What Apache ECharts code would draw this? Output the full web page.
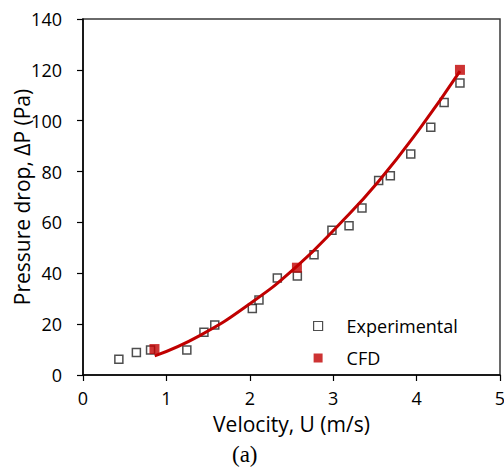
<!DOCTYPE html>
<html>
<head>
<meta charset="utf-8">
<script src="https://cdn.jsdelivr.net/npm/echarts@6/dist/echarts.min.js"></script>
<style>
html,body{margin:0;padding:0;background:#fff;}
#chart{width:504px;height:474px;}
</style>
</head>
<body>
<div id="chart"></div>
<script>
// Experimental data
var expU  = [0.43, 0.64, 0.81, 1.245, 1.45, 1.58, 2.03, 2.11, 2.33, 2.57, 2.77, 2.985, 3.19, 3.345, 3.545, 3.685, 3.93, 4.17, 4.33, 4.52];
var expDP = [6.2, 8.8, 9.8, 9.8, 16.8, 19.7, 26.2, 29.5, 38.1, 38.9, 47.3, 56.9, 58.7, 65.7, 76.5, 78.4, 86.9, 97.4, 107.2, 114.8];
// CFD data
var cfdU  = [0.857, 2.565, 4.52];
var cfdDP = [10.2, 42.2, 120.0];
// Trend curve
var fitU  = [0.86, 1.4, 2.0, 2.56, 3.08, 3.54, 4.04, 4.52];
var fitDP = [7.5, 15.5, 28.0, 42.6, 59.5, 76.0, 97.0, 119.5];
// Axis ticks
var xTicks = [0, 1, 2, 3, 4, 5];
var yTicks = [0, 20, 40, 60, 80, 100, 120, 140];

function pairs(a, b) { return a.map(function (v, i) { return [v, b[i]]; }); }

var font = '"Open Sans", sans-serif';
var chart = echarts.init(document.getElementById('chart'), null, { renderer: 'svg' });
chart.setOption({
  animation: false,
  backgroundColor: '#fff',
  title: {
    text: '(a)', left: 232, top: 443, padding: 0,
    textStyle: { fontFamily: '"Liberation Serif", serif', fontSize: 23, fontWeight: 'normal', color: '#000' }
  },
  grid: { left: 83, right: 4, top: 19, bottom: 99, outerBoundsMode: 'none', containLabel: false,
          show: true, borderColor: '#3a3a3a', borderWidth: 1.5, backgroundColor: 'transparent' },
  legend: {
    orient: 'vertical', left: 308, top: 311, itemWidth: 9, itemHeight: 9, itemGap: 12,
    data: [
      { name: 'Experimental', itemStyle: { color: '#fff', borderColor: '#222', borderWidth: 1.2 } },
      { name: 'CFD' }
    ],
    textStyle: { fontFamily: font, fontSize: 18, color: '#000', padding: [0, 0, 0, 19], lineHeight: 20 }
  },
  xAxis: {
    type: 'value', min: xTicks[0], max: xTicks[xTicks.length - 1], interval: 1,
    name: 'Velocity, U (m/s)', nameLocation: 'middle', nameGap: 38,
    nameTextStyle: { fontFamily: font, fontSize: 21, color: '#000' },
    axisLine: { show: true, lineStyle: { color: '#000', width: 1.5 } },
    axisTick: { show: true, inside: false, length: 6, lineStyle: { color: '#000', width: 1.2 } },
    axisLabel: { fontFamily: font, fontSize: 18, color: '#000', margin: 14 },
    splitLine: { show: false }
  },
  yAxis: {
    type: 'value', min: yTicks[0], max: yTicks[yTicks.length - 1], interval: 20,
    name: 'Pressure drop, ΔP (Pa)', nameLocation: 'middle', nameGap: 51, nameMoveOverlap: false,
    nameTextStyle: { fontFamily: font, fontSize: 21, color: '#000' },
    axisLine: { show: true, lineStyle: { color: '#000', width: 1.5 } },
    axisTick: { show: true, inside: false, length: 6, lineStyle: { color: '#000', width: 1.2 } },
    axisLabel: { fontFamily: font, fontSize: 18, color: '#000', margin: 21 },
    splitLine: { show: false }
  },
  series: [
    {
      name: 'Experimental', type: 'scatter', symbol: 'rect', symbolSize: 8, z: 2,
      itemStyle: { color: '#fff', borderColor: '#222', borderWidth: 1.5 },
      data: pairs(expU, expDP)
    },
    {
      name: 'Fit', type: 'line', smooth: true, showSymbol: false, symbol: 'none', z: 3,
      lineStyle: { color: '#c00000', width: 3 },
      data: pairs(fitU, fitDP)
    },
    {
      name: 'CFD', type: 'scatter', symbol: 'rect', symbolSize: 10, z: 4,
      itemStyle: { color: '#c00000' },
      data: pairs(cfdU, cfdDP)
    }
  ]
});
</script>
</body>
</html>
